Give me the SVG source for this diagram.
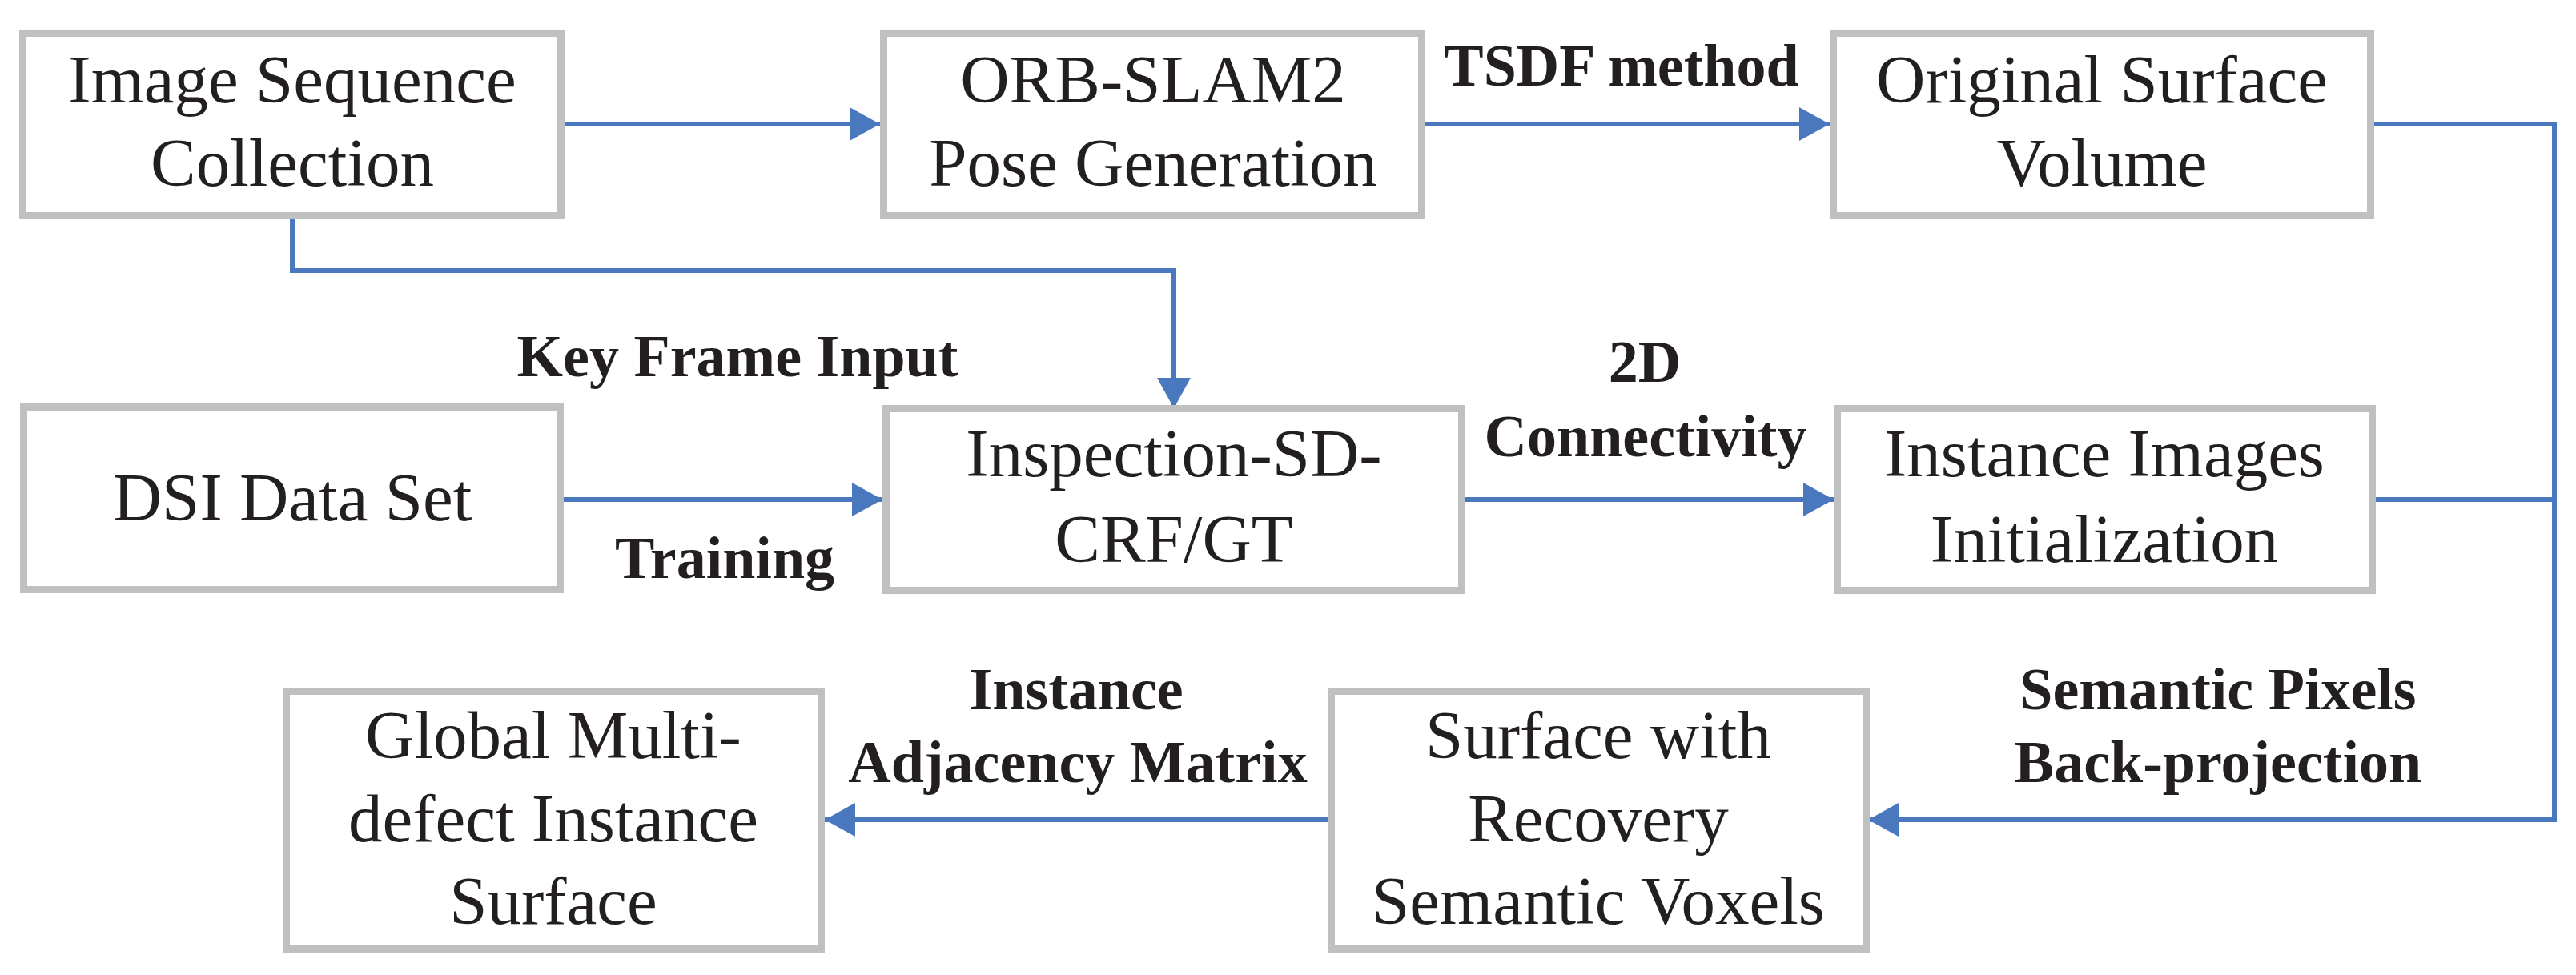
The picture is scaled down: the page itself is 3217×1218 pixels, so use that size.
<svg xmlns="http://www.w3.org/2000/svg" width="3217" height="1218" viewBox="0 0 3217 1218">
<style>
.box{fill:#fff;stroke:#bfc0c2;stroke-width:9}
.t{font-family:"Liberation Serif",serif;font-size:85px;fill:#231f20;text-anchor:middle}
.b{font-family:"Liberation Serif",serif;font-size:74px;font-weight:bold;fill:#231f20;text-anchor:middle}
.c{fill:none;stroke:#4a78be;stroke-width:6}
</style>
<defs><marker id="a" markerUnits="userSpaceOnUse" markerWidth="40" markerHeight="42" refX="38" refY="21" orient="auto"><path d="M0,0L38,21L0,42z" fill="#4a78be"/></marker></defs>
<rect width="3217" height="1218" fill="#fff"/>
<g id="connectors">
<path class="c" d="M701,155H1099" marker-end="url(#a)"/>
<path class="c" d="M1780,155H2285" marker-end="url(#a)"/>
<path class="c" d="M365,274V338H1466V510" marker-end="url(#a)"/>
<path class="c" d="M704,624H1102" marker-end="url(#a)"/>
<path class="c" d="M1830,624H2290" marker-end="url(#a)"/>
<path class="c" d="M2965,155H3190V1024H2333" marker-end="url(#a)"/>
<path class="c" d="M2967,624H3190"/>
<path class="c" d="M1658,1024H1030" marker-end="url(#a)"/>
</g>
<g id="labels">
<text class="b" x="2025" y="107">TSDF method</text>
<text class="b" x="921" y="470">Key Frame Input</text>
<text class="b" x="905" y="722">Training</text>
<text class="b" x="2054" y="477">2D</text>
<text class="b" x="2055" y="570">Connectivity</text>
<text class="b" x="1344" y="886">Instance</text>
<text class="b" x="1346" y="977">Adjacency Matrix</text>
<text class="b" x="2770" y="886">Semantic Pixels</text>
<text class="b" x="2770" y="977">Back-projection</text>
</g>
<g id="n1"><rect class="box" x="28.5" y="41.5" width="672" height="228"/><text class="t" x="365" y="128">Image Sequence</text><text class="t" x="365" y="232">Collection</text></g>
<g id="n2"><rect class="box" x="1103.5" y="41.5" width="672" height="228"/><text class="t" x="1440" y="128">ORB-SLAM2</text><text class="t" x="1440" y="232">Pose Generation</text></g>
<g id="n3"><rect class="box" x="2289.5" y="41.5" width="671" height="228"/><text class="t" x="2625" y="128">Original Surface</text><text class="t" x="2625" y="232">Volume</text></g>
<g id="n4"><rect class="box" x="29.5" y="508.5" width="670" height="228"/><text class="t" x="365" y="650">DSI Data Set</text></g>
<g id="n5"><rect class="box" x="1106.5" y="510.5" width="719" height="227"/><text class="t" x="1466" y="595">Inspection-SD-</text><text class="t" x="1466" y="702">CRF/GT</text></g>
<g id="n6"><rect class="box" x="2294.5" y="510.5" width="668" height="227"/><text class="t" x="2628" y="595">Instance Images</text><text class="t" x="2628" y="702">Initialization</text></g>
<g id="n7"><rect class="box" x="357.5" y="863.5" width="668" height="322"/><text class="t" x="691" y="947">Global Multi-</text><text class="t" x="691" y="1051">defect Instance</text><text class="t" x="691" y="1154">Surface</text></g>
<g id="n8"><rect class="box" x="1662.5" y="863.5" width="668" height="322"/><text class="t" x="1996" y="947">Surface with</text><text class="t" x="1996" y="1051">Recovery</text><text class="t" x="1996" y="1154">Semantic Voxels</text></g>
</svg>
